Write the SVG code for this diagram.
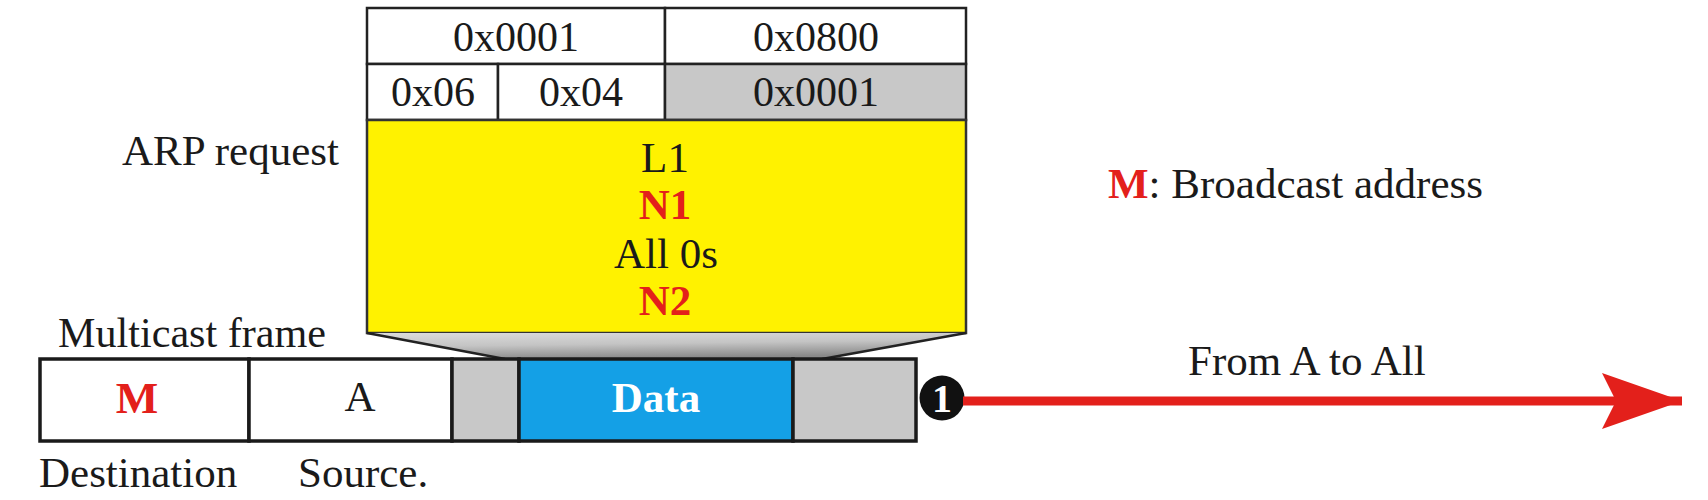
<svg xmlns="http://www.w3.org/2000/svg" width="1708" height="500" viewBox="0 0 1708 500">
  <style>
    text { font-family: "Liberation Serif", "Times New Roman", serif; font-size: 43px; fill: #1a1a1a; }
    .hdr { font-size: 42px; text-anchor: middle; }
    .mid { text-anchor: middle; }
    .red { fill: #e3201b; font-weight: bold; }
    .cell { stroke: #222; stroke-width: 2.5; }
    .fcell { stroke: #1a1a1a; stroke-width: 3.5; }
    .white { fill: #ffffff; }
    .grey { fill: #c8c8c8; }
  </style>
  <defs>
    <linearGradient id="funnel" x1="0" y1="0" x2="0.3" y2="1">
      <stop offset="0" stop-color="#dcdcdc"/>
      <stop offset="0.5" stop-color="#c4c4c4"/>
      <stop offset="1" stop-color="#8a8a8a"/>
    </linearGradient>
    <marker id="arrowHead" markerUnits="userSpaceOnUse" markerWidth="84" markerHeight="64" refX="80" refY="30" orient="auto">
      <path d="M80,30 L0,2 L14,30 L0,58 Z" fill="#e3201b"/>
    </marker>
  </defs>

  <g id="arp-header">
    <rect class="cell white" x="367" y="8" width="298" height="56"/>
    <rect class="cell white" x="665" y="8" width="301" height="56"/>
    <rect class="cell white" x="367" y="64" width="131" height="56"/>
    <rect class="cell white" x="498" y="64" width="167" height="56"/>
    <rect class="cell grey" x="665" y="64" width="301" height="56"/>
    <text class="hdr" x="516" y="51">0x0001</text>
    <text class="hdr" x="816" y="51">0x0800</text>
    <text class="hdr" x="433" y="106">0x06</text>
    <text class="hdr" x="581" y="106">0x04</text>
    <text class="hdr" x="816" y="106">0x0001</text>
  </g>

  <g id="arp-body">
    <rect x="367" y="120" width="599" height="213" fill="#fff200" stroke="#333" stroke-width="2.5"/>
    <text class="mid" x="665" y="172">L1</text>
    <text class="mid red" x="665" y="219">N1</text>
    <text class="mid" x="666" y="268">All 0s</text>
    <text class="mid red" x="665" y="315">N2</text>
  </g>

  <g id="arp-label">
    <text x="122" y="165">ARP request</text>
  </g>

  <g id="funnel-shape">
    <path d="M367,333 L966,333 L822,359 L505,359 Z" fill="url(#funnel)"/>
    <path d="M367,333 L505,359 M966,333 L822,359" stroke="#222" stroke-width="2.5" fill="none"/>
  </g>

  <g id="frame">
    <rect class="fcell white" x="40" y="359" width="209" height="82"/>
    <rect class="fcell white" x="249" y="359" width="203" height="82"/>
    <rect class="fcell grey" x="452" y="359" width="67" height="82"/>
    <rect class="fcell" x="519" y="359" width="274" height="82" fill="#14a0e6"/>
    <rect class="fcell grey" x="793" y="359" width="123" height="82"/>
    <text class="mid red" x="137" y="413" style="font-size:45px">M</text>
    <text class="mid" x="360" y="411">A</text>
    <text class="mid" x="656" y="412" style="fill:#ffffff;font-weight:bold">Data</text>
  </g>

  <g id="frame-labels">
    <text x="58" y="347" textLength="268" lengthAdjust="spacingAndGlyphs">Multicast frame</text>
    <text x="39" y="487">Destination</text>
    <text x="298" y="487">Source.</text>
  </g>

  <g id="legend">
    <text x="1108" y="198"><tspan class="red">M</tspan>: Broadcast address</text>
  </g>

  <g id="step-1">
    <circle cx="942" cy="398" r="22.5" fill="#111"/>
    <text class="mid" x="942" y="412" style="fill:#ffffff;font-weight:bold;font-size:40px">1</text>
  </g>

  <g id="connectors">
    <line x1="963" y1="401" x2="1682" y2="401" stroke="#e3201b" stroke-width="9" marker-end="url(#arrowHead)"/>
    <text x="1188" y="375">From A to All</text>
  </g>
</svg>
